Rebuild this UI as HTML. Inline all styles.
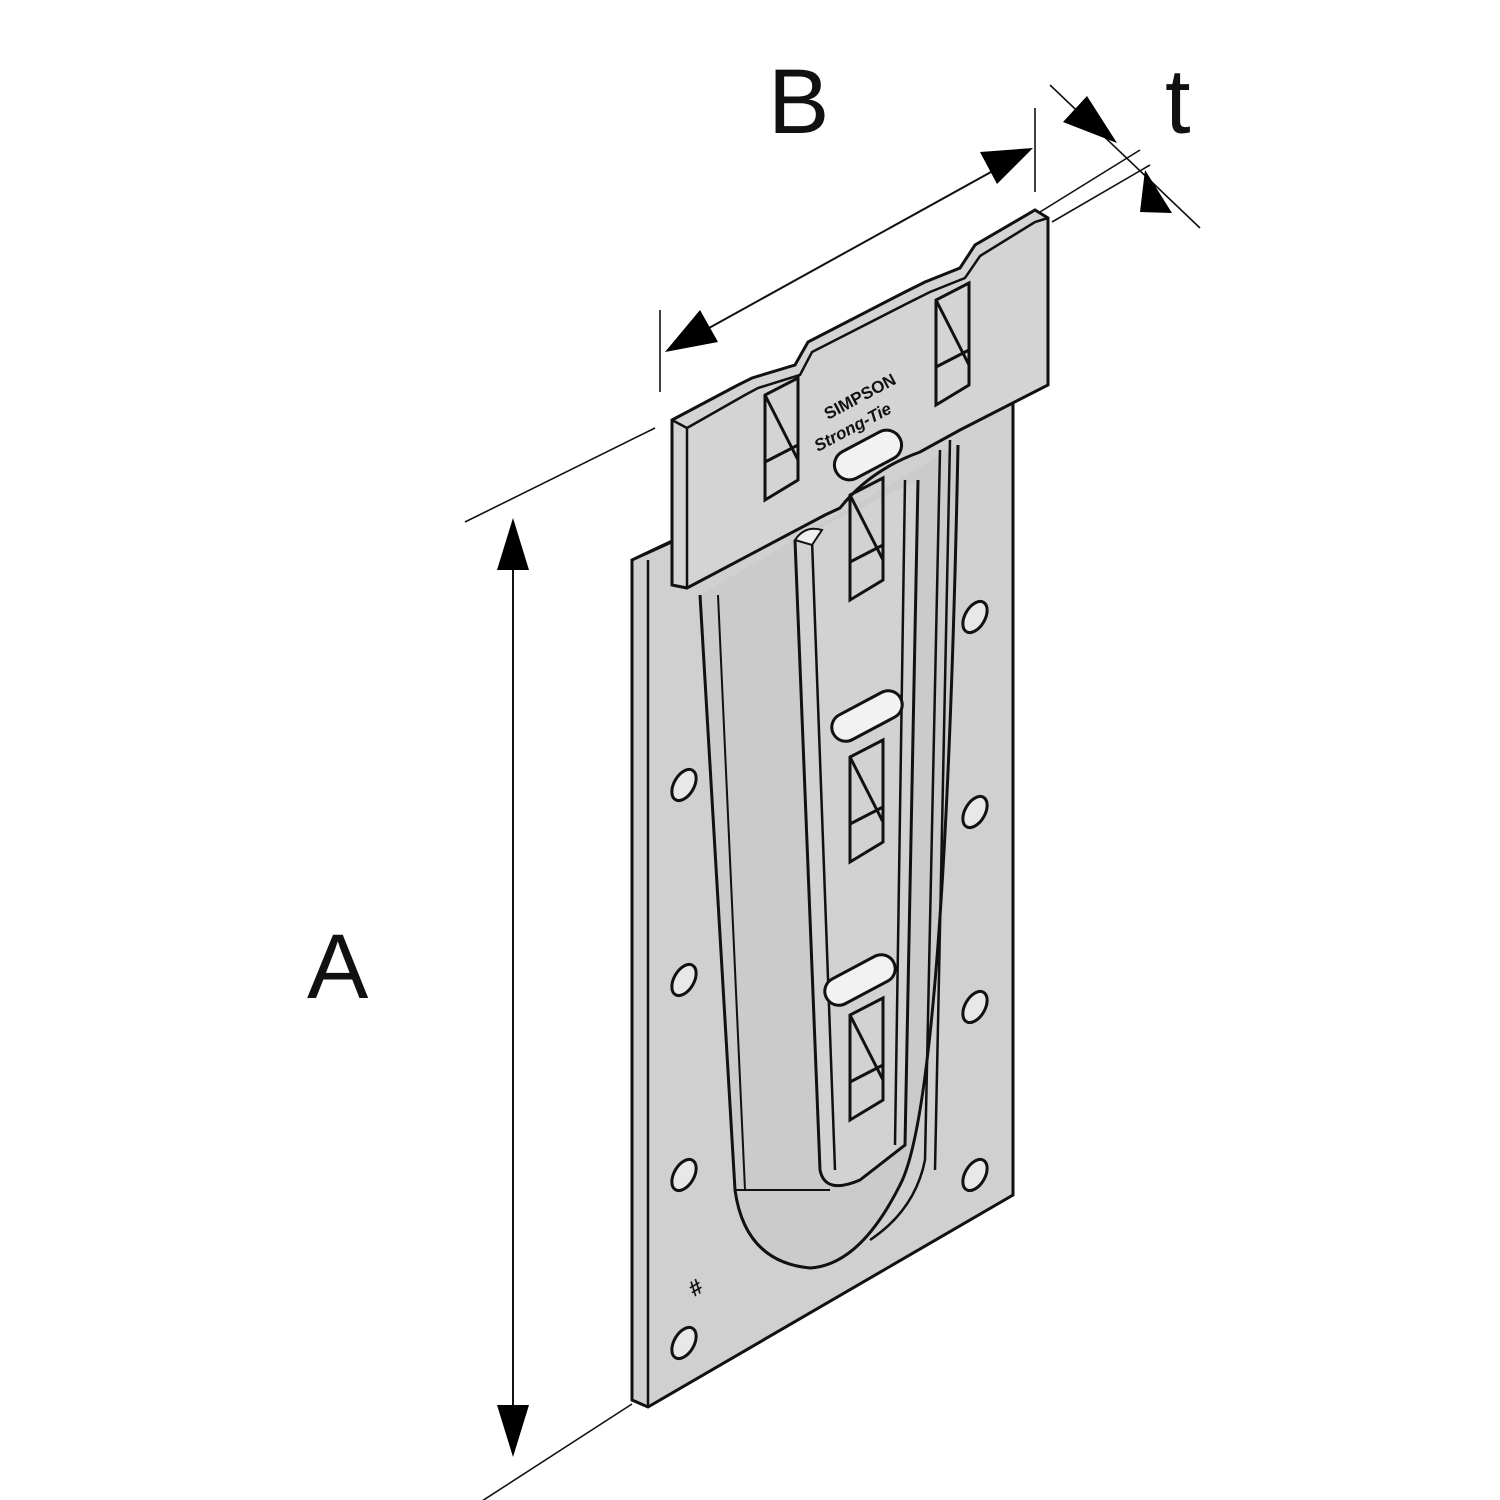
<!DOCTYPE html>
<html><head><style>html,body{margin:0;padding:0;background:#fff;}svg{display:block}</style></head>
<body>
<svg width="1500" height="1500" viewBox="0 0 1500 1500" xmlns="http://www.w3.org/2000/svg">
<defs>
<marker id="ar" viewBox="0 0 10 10" refX="10" refY="5" markerWidth="12" markerHeight="12" markerUnits="userSpaceOnUse" orient="auto"><path d="M0,0 L10,5 L0,10z" fill="#000"/></marker>
<g id="nt" fill="none" stroke="#111" stroke-width="3">
<path d="M0,0 L0,-105 L33,-122 L33,-20 Z M0,-105 L33,-40 M0,-38 L33,-55"/>
</g>
<g id="hole"><ellipse rx="10" ry="17" transform="rotate(30)" fill="#e8e8e8" stroke="#111" stroke-width="3"/></g>
</defs>

<g stroke="#111" stroke-width="1.6" fill="none">
<line x1="465" y1="522" x2="655" y2="428"/>
<line x1="465" y1="1512" x2="632" y2="1404"/>
<line x1="660" y1="310" x2="660" y2="392"/>
<line x1="1035" y1="108" x2="1035" y2="192"/>
<line x1="1040" y1="212" x2="1140" y2="150"/>
<line x1="1052" y1="222" x2="1150" y2="165"/>
<line x1="1050" y1="85" x2="1200" y2="228"/>
</g>
<line x1="513" y1="570" x2="513" y2="1405" stroke="#111" stroke-width="2"/>
<path d="M513,518 L497,570 L529,570Z M513,1457 L497,1405 L529,1405Z" fill="#000"/>
<line x1="700" y1="333" x2="1000" y2="167" stroke="#111" stroke-width="2"/>
<path d="M665,352 L700,310 L718,342Z M1033,148 L980,152 L997,184Z" fill="#000"/>
<path d="M1063,122 L1087,96 L1117,143Z M1145,170 L1172,213 L1140,212Z" fill="#000"/>

<text x="768" y="133" font-family="Liberation Sans, sans-serif" font-size="92" fill="#111">B</text>
<text x="1165" y="133" font-family="Liberation Sans, sans-serif" font-size="92" fill="#111">t</text>
<text x="307" y="998" font-family="Liberation Sans, sans-serif" font-size="92" fill="#111">A</text>

<!-- back plate -->
<path d="M632,560 L670,542 L1013,400 L1013,1195 L648,1407 L632,1400Z" fill="#d0d0d0" stroke="#111" stroke-width="3"/>
<line x1="648" y1="560" x2="648" y2="1407" stroke="#111" stroke-width="2.5"/>
<path d="M632,560 L648,553 L670,543" fill="none" stroke="#111" stroke-width="2.5"/>

<!-- U slot -->
<path d="M700,595 L735,1190 Q745,1262 810,1268 Q860,1265 900,1185 Q945,1100 958,445" fill="#cbcbcb" stroke="#111" stroke-width="3"/>
<path d="M718,595 L745,1190 L735,1190 M745,1190 L830,1190" fill="none" stroke="#111" stroke-width="2"/>
<path d="M795,540 L820,1170 Q825,1195 860,1180 L905,1145 L918,480" fill="#d2d2d2" stroke="#111" stroke-width="3"/>
<path d="M812,540 L835,1170 M905,480 L895,1145 M940,450 L925,1160 Q915,1210 870,1240 M950,440 L935,1170" fill="none" stroke="#111" stroke-width="2.5"/>
<path d="M795,540 Q805,525 822,530 L812,545Z" fill="#f0f0f0" stroke="#111" stroke-width="2"/>

<!-- slots -->
<g fill="#f2f2f2" stroke="#111" stroke-width="3">
<rect x="-38" y="-14" width="76" height="28" rx="14" transform="translate(867,716) rotate(-28)"/>
<rect x="-38" y="-14" width="76" height="28" rx="14" transform="translate(860,980) rotate(-28)"/>
</g>
<use href="#nt" x="850" y="862"/>
<use href="#nt" x="850" y="1120"/>

<!-- holes -->
<use href="#hole" x="684" y="785"/>
<use href="#hole" x="684" y="980"/>
<use href="#hole" x="684" y="1175"/>
<use href="#hole" x="684" y="1343"/>
<use href="#hole" x="975" y="617"/>
<use href="#hole" x="975" y="812"/>
<use href="#hole" x="975" y="1007"/>
<use href="#hole" x="975" y="1175"/>
<text x="688" y="1295" font-family="Liberation Sans, sans-serif" font-size="22" font-weight="bold" fill="#111" transform="rotate(-30 695 1285)">#</text>

<!-- top tab -->
<path d="M672,420 L738,385 L752,378 L795,365 L808,342 L905,292 L925,282 L960,268 L975,245 L1035,210 L1048,218 L1048,385 L960,430 L920,452 Q870,470 840,508 L825,515 L687,588 L672,585Z" fill="#d4d4d4" stroke="#111" stroke-width="3"/>
<path d="M672,420 L687,428 L687,588 M687,428 L745,395 L758,388 L800,375 L812,352 L910,302 L930,292 L965,278 L980,256 L1035,222 L1048,218" fill="none" stroke="#111" stroke-width="2.5"/>
<rect x="-36" y="-15" width="72" height="30" rx="15" transform="translate(868,455) rotate(-28)" fill="#f2f2f2" stroke="#111" stroke-width="3"/>
<use href="#nt" x="765" y="500"/>
<use href="#nt" x="850" y="600"/>
<use href="#nt" x="936" y="405"/>
<text x="828" y="420" font-family="Liberation Sans, sans-serif" font-size="17" font-weight="bold" fill="#111" transform="rotate(-28 828 420)">SIMPSON</text>
<text x="818" y="452" font-family="Liberation Sans, sans-serif" font-size="17" font-weight="bold" font-style="italic" fill="#111" transform="rotate(-28 818 452)">Strong-Tie</text>
</svg>
</body></html>
